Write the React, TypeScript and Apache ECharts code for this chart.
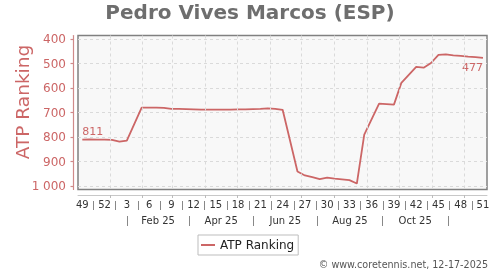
import React, { useEffect, useRef } from "react";
import * as echarts from "echarts";

// ---- data ----
const title = "Pedro Vives Marcos (ESP)";
const seriesName = "ATP Ranking";
const firstWeekDate = [2024, 11, 6]; // week index 0 (ISO week 49, 2024)
// weekly ATP ranking, index 0 = week 49/2024 ... index 54 = week 51/2025 (null = no point)
const rankings: (number | null)[] = [
  811, 810, 811, 811, 812, 819, 815, null, 680, 680,
  680, 681, 685, 685, 686, 687, 688, 688, 688, 688,
  688, 687, 687, 686, 685, 683, 685, 689, null, 941,
  957, 964, 972, 966, 970, 973, 976, 990, 790, null,
  664, 666, 668, 579, null, 514, 517, 498, 465, 463,
  467, 469, 472, 474, 477,
];
const weekTickLabels = ["49", "52", "3", "6", "9", "12", "15", "18", "21", "24", "27", "30", "33", "36", "39", "42", "45", "48", "51"];
const monthLabels = ["Feb 25", "Apr 25", "Jun 25", "Aug 25", "Oct 25"];
const monthSeparatorDates: [number, number, number][] = [
  [2025, 0, 17], [2025, 2, 17], [2025, 4, 16], [2025, 6, 16], [2025, 8, 15], [2025, 10, 16],
];
const monthGridDates: [number, number, number][] = [
  [2025, 0, 1], [2025, 1, 1], [2025, 2, 1], [2025, 3, 1], [2025, 4, 1], [2025, 5, 1],
  [2025, 6, 1], [2025, 7, 1], [2025, 8, 1], [2025, 9, 1], [2025, 10, 1], [2025, 11, 1],
];
const copyright = "© www.coretennis.net, 12-17-2025";

// ---- layout / style ----
const FONT = "DejaVu Sans";
const RED = "#cc6666";
const PINK = "#d08a8a";
const X0 = 82.3; // px of week index 0
const DX = 7.42; // px per week
const BOX_L = 78, BOX_R = 487, BOX_T = 35.5, BOX_B = 189.5;
const Y400 = 39, Y1000 = 186;

const toIdx = (d: [number, number, number]) =>
  (Date.UTC(d[0], d[1], d[2]) - Date.UTC(firstWeekDate[0], firstWeekDate[1], firstWeekDate[2])) / (7 * 86400000);

export default function App() {
  const ref = useRef<HTMLDivElement>(null);
  useEffect(() => {
    if (!ref.current) return;
    const chart = echarts.init(ref.current, undefined, { renderer: "svg" });
    const xMin = (BOX_L - X0) / DX;
    const xMax = (BOX_R - X0) / DX;
    const pxPerUnit = (Y1000 - Y400) / 600;
    const yMin = 400 - (Y400 - BOX_T) / pxPerUnit;
    const yMax = 1000 + (BOX_B - Y1000) / pxPerUnit;

    const weekLabelVals = weekTickLabels.map((_, i) => i * 3);
    const weekSepVals = weekTickLabels.slice(0, -1).map((_, i) => i * 3 + 1.5);
    const sepVals = monthSeparatorDates.map(toIdx);
    const monthLabelVals = monthLabels.map((_, i) => (sepVals[i] + sepVals[i + 1]) / 2);
    const gridVals = monthGridDates.map(toIdx);

    const points: any[] = [];
    const lastIdx = rankings.length - 1;
    const lbl = { show: true, color: RED, fontSize: 11, fontFamily: FONT };
    rankings.forEach((v, i) => {
      if (v == null) return;
      if (i === 0) {
        points.push({
          value: [i, v],
          label: { ...lbl, position: "top", align: "left", distance: 3, formatter: () => String(v) },
        });
      } else if (i === lastIdx) {
        points.push({
          value: [i, v],
          label: { ...lbl, position: "bottom", align: "right", distance: 4, formatter: () => String(v) },
        });
      } else points.push([i, v]);
    });

    const hiddenX = (extra: any) => ({
      type: "value",
      gridIndex: 0,
      min: xMin,
      max: xMax,
      position: "bottom",
      axisLine: { show: false, onZero: false },
      axisTick: { show: false },
      axisLabel: { show: false },
      splitLine: { show: false },
      ...extra,
    });

    chart.setOption({
      animation: false,
      textStyle: { fontFamily: FONT },
      title: {
        text: title,
        left: "center",
        top: 2,
        padding: 0,
        textStyle: { fontSize: 20, fontWeight: "bold", color: "#6e6e6e", fontFamily: FONT },
      },
      legend: {
        data: [seriesName],
        left: 198,
        top: 235,
        padding: [4, 4, 4, 3],
        borderColor: "#bdbdbd",
        borderWidth: 1,
        icon: "rect",
        itemWidth: 14,
        itemHeight: 2,
        textStyle: { fontSize: 12, color: "#222", fontFamily: FONT },
      },
      graphic: [
        {
          type: "text",
          right: 12,
          top: 259,
          style: { text: copyright, fontSize: 9.6, fill: "#555", fontFamily: FONT },
        },
        {
          type: "text",
          x: 22,
          y: 102,
          rotation: Math.PI / 2,
          style: { text: seriesName, fontSize: 18.5, fill: RED, fontFamily: FONT, align: "center", verticalAlign: "middle" },
        },
      ],
      grid: [
        {
          left: BOX_L,
          top: BOX_T,
          width: BOX_R - BOX_L,
          height: BOX_B - BOX_T,
          show: true,
          backgroundColor: "#f8f8f8",
          borderColor: "#808080",
          borderWidth: 1.5,
        },
        {
          left: BOX_L,
          top: Y400,
          width: BOX_R - BOX_L,
          height: Y1000 - Y400,
          show: false,
        },
      ],
      xAxis: [
        // data axis: offset axis line with month ticks
        hiddenX({
          axisLine: { show: true, onZero: false, lineStyle: { color: "#c8c8c8", width: 1 } },
          offset: 5.5,
          axisTick: { show: true, customValues: gridVals, length: 3, lineStyle: { color: "#bbbbbb" } },
        }),
        // week labels
        hiddenX({
          axisLabel: {
            show: true,
            customValues: weekLabelVals,
            margin: 10,
            fontSize: 10,
            color: "#333",
            fontFamily: FONT,
            formatter: (v: number) => weekTickLabels[Math.round(v / 3)] ?? "",
          },
        }),
        // week separators
        hiddenX({
          offset: 11.5,
          axisTick: { show: true, customValues: weekSepVals, length: 9, lineStyle: { color: "#888" } },
        }),
        // month labels
        hiddenX({
          axisLabel: {
            show: true,
            customValues: monthLabelVals,
            margin: 26,
            fontSize: 10,
            color: "#333",
            fontFamily: FONT,
            formatter: (v: number) => {
              const k = monthLabelVals.findIndex((m) => Math.abs(m - v) < 1e-6);
              return k >= 0 ? monthLabels[k] : "";
            },
          },
        }),
        // month separators
        hiddenX({
          offset: 26.5,
          axisTick: { show: true, customValues: sepVals, length: 10, lineStyle: { color: "#888" } },
        }),
        { type: "value", gridIndex: 1, show: false, min: 0, max: 1 },
      ],
      yAxis: [
        {
          type: "value",
          gridIndex: 0,
          position: "left",
          inverse: true,
          min: yMin,
          max: yMax,
          offset: 4.5,
          axisLine: { show: true, onZero: false, lineStyle: { color: PINK, width: 1.2 } },
          axisTick: { show: false },
          axisLabel: { show: false },
          splitLine: { show: false },
        },
        {
          type: "value",
          gridIndex: 1,
          position: "left",
          inverse: true,
          min: 400,
          max: 1000,
          interval: 100,
          offset: 4.5,
          axisLine: { show: false, onZero: false },
          axisTick: { show: true, length: 3, lineStyle: { color: PINK, width: 1.2 } },
          axisLabel: {
            margin: 7.5,
            fontSize: 12,
            color: RED,
            fontFamily: FONT,
            formatter: (v: number) => String(v).replace(/\B(?=(\d{3})+(?!\d))/g, " "),
          },
          splitLine: { show: true, lineStyle: { color: "#dadada", type: [3, 3], width: 1 } },
        },
      ],
      series: [
        {
          name: seriesName,
          type: "line",
          xAxisIndex: 0,
          yAxisIndex: 0,
          data: points,
          symbol: "circle",
          symbolSize: 0,
          showSymbol: true,
          lineStyle: { color: RED, width: 1.8 },
          itemStyle: { color: RED },
          markLine: {
            silent: true,
            symbol: ["none", "none"],
            label: { show: false },
            lineStyle: { color: "#dadada", type: [3, 3], width: 1 },
            data: gridVals.map((v) => ({ xAxis: v })),
          },
        },
      ],
    });
    return () => chart.dispose();
  }, []);
  return <div ref={ref} style={{ position: "fixed", left: 0, top: 0, width: 500, height: 270 }} />;
}
